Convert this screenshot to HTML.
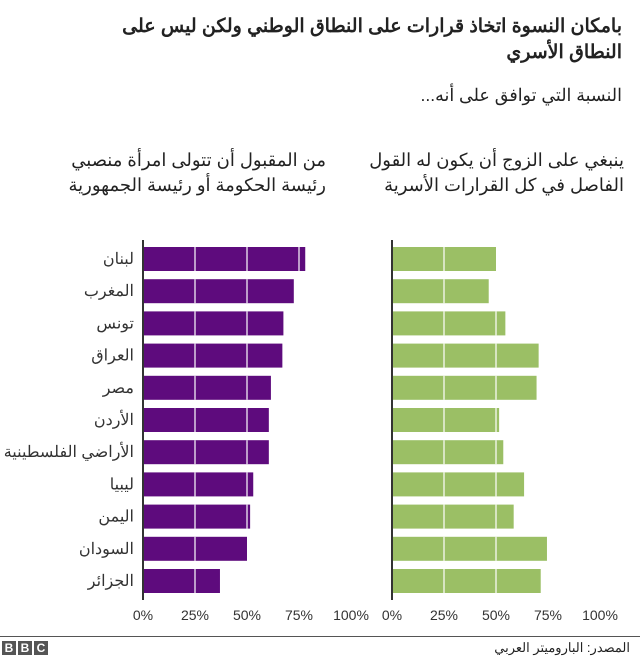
<!DOCTYPE html>
<html><head><meta charset="utf-8"><style>
body{margin:0;width:640px;height:659px;background:#fff;font-family:"Liberation Sans","Noto Sans CJK SC",sans-serif;overflow:hidden;position:relative;color:#222}
.t{position:absolute;direction:rtl;text-align:right;white-space:nowrap}
</style></head><body>
<div class="t" style="right:18px;top:14px;font-size:19px;font-weight:bold;line-height:26px">بامكان النسوة اتخاذ قرارات على النطاق الوطني ولكن ليس على<br>النطاق الأسري</div>
<div class="t" style="right:18px;top:85px;font-size:17.5px">النسبة التي توافق على أنه...</div>
<div class="t" style="right:314px;top:148px;font-size:18px;line-height:25px">من المقبول أن تتولى امرأة منصبي<br>رئيسة الحكومة أو رئيسة الجمهورية</div>
<div class="t" style="right:16px;top:148px;font-size:18px;line-height:25px">ينبغي على الزوج أن يكون له القول<br>الفاصل في كل القرارات الأسرية</div>
<svg id="c" width="640" height="659" style="position:absolute;left:0;top:0"></svg>
<div style="position:absolute;left:0;top:636px;width:640px;height:1px;background:#555"></div>
<div style="position:absolute;left:2px;top:641px;display:flex;gap:2px">
<span style="width:14px;height:14px;background:#555;color:#fff;font-size:12px;font-weight:bold;text-align:center;line-height:14px">B</span><span style="width:14px;height:14px;background:#555;color:#fff;font-size:12px;font-weight:bold;text-align:center;line-height:14px">B</span><span style="width:14px;height:14px;background:#555;color:#fff;font-size:12px;font-weight:bold;text-align:center;line-height:14px">C</span></div>
<div class="t" style="right:10px;top:640px;font-size:13px">المصدر: الباروميتر العربي</div>
<script>
const categories=["لبنان","المغرب","تونس","العراق","مصر","الأردن","الأراضي الفلسطينية","ليبيا","اليمن","السودان","الجزائر"];
const leaderValues=[78,72.5,67.5,67,61.5,60.5,60.5,53,51.5,50,37];
const husbandValues=[50,46.5,54.5,70.5,69.5,51.5,53.5,63.5,58.5,74.5,71.5];
const tickValues=[0,25,50,75,100];
const tickLabels=["0%","25%","50%","75%","100%"];
const svg=document.getElementById('c');const NS="http://www.w3.org/2000/svg";
function mk(t,a){const e=document.createElementNS(NS,t);for(const k in a)e.setAttribute(k,a[k]);svg.appendChild(e);return e;}
const y=i=>247+i*32.2;const bh=24;
const panels=[{x0:143,vals:leaderValues,col:"#5e0b7d",name:"leader"},{x0:392,vals:husbandValues,col:"#9bbf65",name:"husband"}];
const sx=(p,v)=>p.x0+v*2.08;
categories.forEach((c,i)=>{
 const t=mk('text',{x:134,y:y(i)+bh/2+5,'text-anchor':'end','font-size':16,fill:'#333'});t.textContent=c;
 
 
});
panels.forEach(p=>{
 p.vals.forEach((v,i)=>{
  const r=mk('rect',{x:p.x0,y:y(i),width:sx(p,v)-p.x0,height:bh,fill:p.col});
  
  
  [25,50,75].forEach(g=>{if(g<v){const l=mk('line',{x1:sx(p,g),x2:sx(p,g),y1:y(i),y2:y(i)+bh,stroke:'#fff','stroke-width':1.2});
   
   }});
 });
 const a=mk('line',{x1:p.x0,x2:p.x0,y1:240,y2:600,stroke:'#333','stroke-width':2});
 
 
 tickValues.forEach((tv,k)=>{const t=mk('text',{x:sx(p,tv),y:620,'text-anchor':'middle','font-size':14,fill:'#333'});t.textContent=tickLabels[k];
  
  });
});
</script>
</body></html>
